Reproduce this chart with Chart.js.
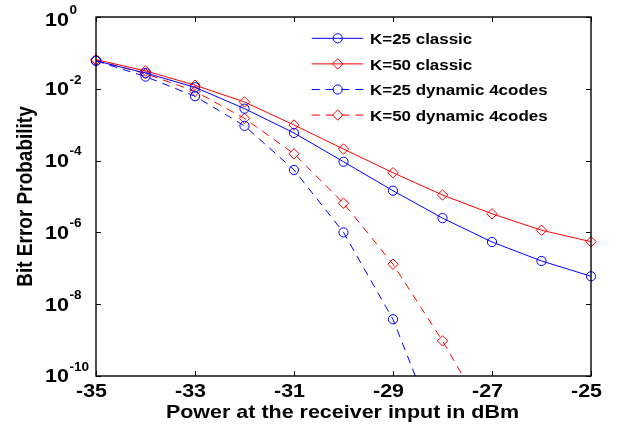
<!DOCTYPE html>
<html><head><meta charset="utf-8">
<script src="https://cdn.jsdelivr.net/npm/chart.js@4/dist/chart.umd.min.js"></script>
<style>html,body{margin:0;padding:0;background:#fff}canvas{display:block}</style>
</head><body>
<canvas id="c" width="621" height="427"></canvas>
<script>
// ---- data ----
const powers = [-35, -34, -33, -32, -31, -30, -29, -28, -27, -26, -25];
const k25Classic = [0.060, 0.0275, 0.0110, 2.8e-3, 5.9e-4, 9.3e-5, 1.45e-5, 2.5e-6, 5.4e-7, 1.6e-7, 6.0e-8];
const k50Classic = [0.065, 0.0316, 0.0126, 4.3e-3, 9.8e-4, 2.1e-4, 4.6e-5, 1.1e-5, 3.3e-6, 1.15e-6, 5.5e-7];
const k25Dynamic = [0.060, 0.0219, 6.2e-3, 9.3e-4, 5.5e-5, 1.0e-6, 3.8e-9, 1.2e-12];
const k50Dynamic = [0.063, 0.0263, 8.5e-3, 1.5e-3, 1.55e-4, 6.5e-6, 1.3e-7, 9.5e-10, 4e-12];
const seriesNames = ['K=25 classic', 'K=50 classic', 'K=25 dynamic 4codes', 'K=50 dynamic 4codes'];
const xTicks = [-35, -33, -31, -29, -27, -25];
const yTicks = [1e0, 1e-2, 1e-4, 1e-6, 1e-8, 1e-10];
const yTickExponents = ['0', '-2', '-4', '-6', '-8', '-10'];
const xTitle = 'Power at the receiver input in dBm';
const yTitle = 'Bit Error Probability';

const BLUE = '#0000ff', RED = '#ff0000';
const DASH = [8, 6];
const FONT = '"Liberation Sans", Arial, Helvetica, sans-serif';
const SX = 1.13;

function pts(vals) { return vals.map((v, i) => ({ x: powers[i], y: v })); }

const styles = [
  { color: BLUE, dash: [], shape: 'circle', r: 4.6 },
  { color: RED, dash: [], shape: 'rectRot', r: 5.2 },
  { color: BLUE, dash: DASH, shape: 'circle', r: 4.6 },
  { color: RED, dash: DASH, shape: 'rectRot', r: 5.2 }
];
const seriesData = [k25Classic, k50Classic, k25Dynamic, k50Dynamic];

const datasets = seriesData.map((vals, i) => ({
  label: seriesNames[i],
  data: pts(vals),
  borderColor: styles[i].color,
  backgroundColor: 'rgba(0,0,0,0)',
  borderWidth: 1,
  borderDash: styles[i].dash,
  pointStyle: styles[i].shape,
  pointRadius: styles[i].r,
  pointBorderWidth: 1,
  pointBorderColor: styles[i].color,
  pointBackgroundColor: 'rgba(0,0,0,0)',
  tension: 0,
  clip: { left: 8, right: 8, top: 8, bottom: 0 }
}));

function txt(ctx, s, x, y, size, align) {
  ctx.save();
  ctx.translate(x, y);
  ctx.scale(SX, 1);
  ctx.font = 'bold ' + size + 'px ' + FONT;
  ctx.textAlign = align;
  ctx.textBaseline = 'alphabetic';
  ctx.fillStyle = '#000';
  ctx.fillText(s, 0, 0);
  ctx.restore();
}
function textW(ctx, s, size) {
  ctx.save();
  ctx.font = 'bold ' + size + 'px ' + FONT;
  const w = ctx.measureText(s).width * SX;
  ctx.restore();
  return w;
}
function marker(ctx, shape, x, y, r, color) {
  ctx.save();
  ctx.strokeStyle = color; ctx.lineWidth = 1; ctx.setLineDash([]);
  ctx.beginPath();
  if (shape === 'circle') ctx.arc(x, y, r, 0, Math.PI * 2);
  else { ctx.moveTo(x - r, y); ctx.lineTo(x, y - r); ctx.lineTo(x + r, y); ctx.lineTo(x, y + r); ctx.closePath(); }
  ctx.stroke();
  ctx.restore();
}

const framePlugin = {
  id: 'frame',
  afterDraw(chart) {
    const ctx = chart.ctx, ca = chart.chartArea;
    const xs = chart.scales.x, ys = chart.scales.y;
    ctx.save();
    // box
    ctx.strokeStyle = '#000'; ctx.lineWidth = 1.4; ctx.setLineDash([]);
    ctx.strokeRect(ca.left, ca.top, ca.right - ca.left, ca.bottom - ca.top);
    // inward ticks
    ctx.lineWidth = 1;
    ctx.beginPath();
    xTicks.forEach(v => {
      const px = Math.round(xs.getPixelForValue(v)) + 0.5;
      ctx.moveTo(px, ca.bottom); ctx.lineTo(px, ca.bottom - 5);
      ctx.moveTo(px, ca.top); ctx.lineTo(px, ca.top + 5);
    });
    yTicks.forEach(v => {
      const py = Math.round(ys.getPixelForValue(v)) + 0.5;
      ctx.moveTo(ca.left, py); ctx.lineTo(ca.left + 5, py);
      ctx.moveTo(ca.right, py); ctx.lineTo(ca.right - 5, py);
    });
    ctx.stroke();
    // x tick labels
    xTicks.forEach(v => {
      const px = xs.getPixelForValue(v);
      txt(ctx, String(v), px - 4.5, ca.bottom + 20.7, 19, 'center');
    });
    // y tick labels 10^n
    yTicks.forEach((v, i) => {
      const py = ys.getPixelForValue(v);
      const base = Math.max(py + 6.3, ca.top + 8.7);
      txt(ctx, '10', 45, base, 19, 'left');
      const w = textW(ctx, '10', 19);
      txt(ctx, yTickExponents[i], 45 + w + 0.5, base - 11.5, 12, 'left');
    });
    // axis titles
    txt(ctx, xTitle, (ca.left + ca.right) / 2 - 1, 418.3, 19, 'center');
    ctx.save();
    ctx.translate(32, (ca.top + ca.bottom) / 2);
    ctx.scale(SX, 1);
    ctx.rotate(-Math.PI / 2);
    ctx.font = 'bold 19px ' + FONT;
    ctx.textAlign = 'center'; ctx.textBaseline = 'alphabetic'; ctx.fillStyle = '#000';
    ctx.fillText(yTitle, 0, 0);
    ctx.restore();
    // legend
    const lx0 = 311.7, lx1 = 363.3, mx = 337.7;
    seriesNames.forEach((name, i) => {
      const base = 44 + i * 25.6;
      const ly = base - 5.7;
      const st = styles[i];
      ctx.save();
      ctx.strokeStyle = st.color; ctx.lineWidth = 1; ctx.setLineDash(st.dash);
      ctx.beginPath(); ctx.moveTo(lx0, ly); ctx.lineTo(mx, ly); ctx.stroke();
      ctx.beginPath(); ctx.moveTo(lx1, ly); ctx.lineTo(mx, ly); ctx.stroke();
      ctx.restore();
      marker(ctx, st.shape, mx, ly, st.r, st.color);
      txt(ctx, name, 370, base, 15, 'left');
    });
    ctx.restore();
  }
};

new Chart(document.getElementById('c'), {
  type: 'line',
  data: { datasets },
  options: {
    responsive: false,
    animation: false,
    devicePixelRatio: 1,
    layout: { padding: { left: 96, right: 30, top: 17, bottom: 51 } },
    plugins: { legend: { display: false }, tooltip: { enabled: false } },
    scales: {
      x: { type: 'linear', min: -35, max: -25, display: false },
      y: { type: 'logarithmic', min: 1e-10, max: 1, display: false }
    }
  },
  plugins: [framePlugin]
});
</script>
</body></html>
